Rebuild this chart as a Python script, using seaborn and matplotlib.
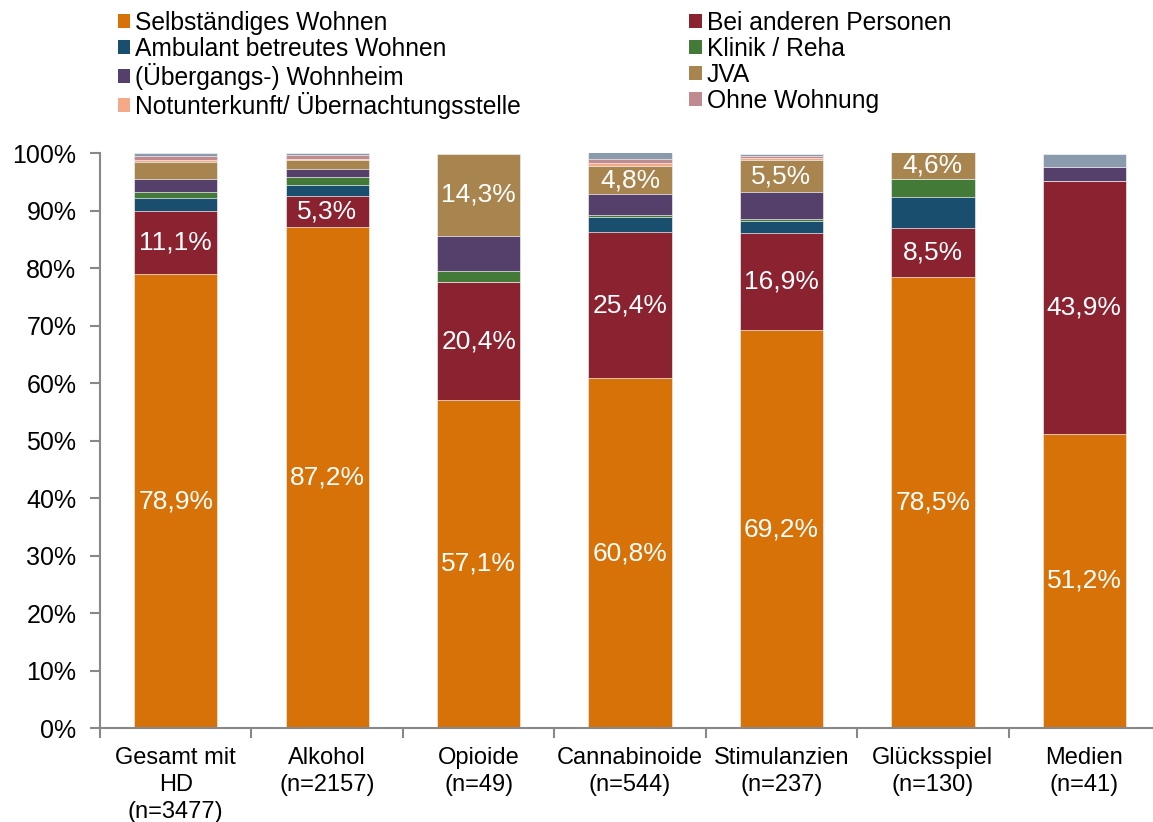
import pandas as pd
import seaborn as sns
import matplotlib

matplotlib.use("Agg")
import matplotlib.pyplot as plt
from matplotlib.patches import Patch
from matplotlib.ticker import FuncFormatter

# Kategorien (x-Achse)
categories = [
    "Gesamt mit\nHD\n(n=3477)",
    "Alkohol\n(n=2157)",
    "Opioide\n(n=49)",
    "Cannabinoide\n(n=544)",
    "Stimulanzien\n(n=237)",
    "Glücksspiel\n(n=130)",
    "Medien\n(n=41)",
]

# Anteile in %
selbst = [78.9, 87.2, 57.1, 60.8, 69.2, 78.5, 51.2]
bei_anderen = [11.1, 5.3, 20.4, 25.4, 16.9, 8.5, 43.9]
ambulant = [2.2, 1.9, 0.0, 2.6, 2.1, 5.4, 0.0]
klinik = [1.0, 1.4, 2.0, 0.4, 0.4, 3.1, 0.0]
wohnheim = [2.2, 1.5, 6.1, 3.7, 4.6, 0.0, 2.4]
jva = [3.0, 1.4, 14.3, 4.8, 5.5, 4.6, 0.0]
notunterkunft = [0.4, 0.2, 0.0, 0.5, 0.4, 0.0, 0.0]
ohne_wohnung = [0.7, 0.7, 0.0, 0.8, 0.4, 0.0, 0.0]
sonstiges = [0.5, 0.4, 0.0, 1.1, 0.4, 0.0, 2.4]

series_names = [
    "Selbständiges Wohnen",
    "Bei anderen Personen",
    "Ambulant betreutes Wohnen",
    "Klinik / Reha",
    "(Übergangs-) Wohnheim",
    "JVA",
    "Notunterkunft/ Übernachtungsstelle",
    "Ohne Wohnung",
    "Sonstiges",
]
series_values = [selbst, bei_anderen, ambulant, klinik, wohnheim, jva,
                 notunterkunft, ohne_wohnung, sonstiges]
colors = ["#D67208", "#8B2230", "#1A4E6E", "#447A37", "#553F6B",
          "#A8844E", "#F4A988", "#C08A8E", "#8A9BAD"]

# welche Segmente beschriftet werden
label_series = {"Selbständiges Wohnen": [0, 1, 2, 3, 4, 5, 6],
                "Bei anderen Personen": [0, 1, 2, 3, 4, 5, 6],
                "JVA": [2, 3, 4, 5]}

df = pd.DataFrame(dict(zip(series_names, series_values)), index=categories)
cum = df.cumsum(axis=1)

sns.set_theme(style="ticks")
plt.rcParams["font.family"] = ["Liberation Sans", "DejaVu Sans"]

fig = plt.figure(figsize=(11.53, 8.22), dpi=100)
ax = fig.add_axes([100 / 1153, 1 - 728 / 822, 1060 / 1153, 575 / 822])

# gestapelte Balken: von oben nach unten überlagert zeichnen
for name, col in reversed(list(zip(series_names, colors))):
    sns.barplot(x=categories, y=cum[name].values, order=categories, color=col,
                width=0.55, saturation=1, edgecolor="#F2F2F2", linewidth=0.5, ax=ax)

for name, idxs in label_series.items():
    bottom = cum[name] - df[name]
    for i in idxs:
        val = df[name].iloc[i]
        ax.text(i, bottom.iloc[i] + val / 2, ("%.1f%%" % val).replace(".", ","),
                ha="center", va="center", color="white", fontsize=19)

ax.set_ylim(0, 100)
ax.set_xlim(-0.5, 6.5)
ax.set_yticks(range(0, 101, 10))
ax.yaxis.set_major_formatter(FuncFormatter(lambda v, p: "%d%%" % v))
ax.set_xticks(range(len(categories)))
ax.set_xticklabels(categories, fontsize=17, linespacing=1.28)
ax.set_xticks([i - 0.5 for i in range(len(categories) + 1)], minor=True)
ax.tick_params(axis="x", which="major", length=0, pad=14, labelcolor="black")
ax.tick_params(axis="x", which="minor", length=7, color="#888888", width=1.5)
ax.tick_params(axis="y", length=7, color="#888888", width=1.5, pad=10,
               labelsize=18, labelcolor="black")
sns.despine(ax=ax)
for s in ["left", "bottom"]:
    ax.spines[s].set_color("#888888")
    ax.spines[s].set_linewidth(1.5)
ax.set_xlabel("")
ax.set_ylabel("")

# Legende zeilenweise (zwei Spalten)
order = [0, 2, 4, 6, 1, 3, 5, 7]
handles = [Patch(facecolor=colors[i], edgecolor="none") for i in order]
labels = [series_names[i] for i in order]
fig.legend(handles, labels, loc="upper left", bbox_to_anchor=(118 / 1153, 1 - 11 / 822),
           ncol=2, frameon=False, fontsize=17.7, handlelength=0.5, handleheight=0.5,
           handletextpad=0.2, labelspacing=0.08, columnspacing=6.85,
           borderpad=0, borderaxespad=0, labelcolor="black")

fig.savefig("out.png", dpi=100)
